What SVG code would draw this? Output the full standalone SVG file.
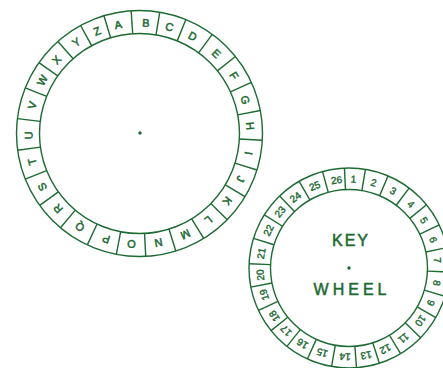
<svg xmlns="http://www.w3.org/2000/svg" xmlns:xlink="http://www.w3.org/1999/xlink" width="443" height="368" viewBox="0 0 443 368">
<style>
.ring{fill:none;stroke:#1d6a33;stroke-width:1.4}
.div{stroke:#1d6a33;stroke-width:1.4}
.dot{fill:#1d6a33}
.let{font-family:"Liberation Sans",Arial,sans-serif;font-size:11px;fill:#1d6a33;stroke:#1d6a33;stroke-width:0.5;text-anchor:middle}
.num{font-family:"Liberation Sans",Arial,sans-serif;font-size:10px;fill:#1d6a33;stroke:#1d6a33;stroke-width:0.4;text-anchor:middle}
.title{font-family:"Liberation Sans",Arial,sans-serif;font-size:16px;fill:#1d6a33;stroke:#1d6a33;stroke-width:0.5;text-anchor:middle}
</style>
<defs>
<line id="bd" class="div" x1="139.5" y1="33.5" x2="139.5" y2="10.5"/>
<line id="kd" class="div" x1="349" y1="189.5" x2="349" y2="168"/>
</defs>
<rect width="443" height="368" fill="#ffffff"/>
<g id="connectors"/>
<g id="alphabet-wheel">
<circle class="ring" cx="139.5" cy="133.5" r="123"/>
<circle class="ring" cx="139.5" cy="133.5" r="100"/>
<circle class="dot" cx="140" cy="133" r="1.7"/>
<use xlink:href="#bd" transform="rotate(-3.9 139.5 133.5)"/>
<use xlink:href="#bd" transform="rotate(9.5 139.5 133.5)"/>
<use xlink:href="#bd" transform="rotate(22.15 139.5 133.5)"/>
<use xlink:href="#bd" transform="rotate(36.25 139.5 133.5)"/>
<use xlink:href="#bd" transform="rotate(51.2 139.5 133.5)"/>
<use xlink:href="#bd" transform="rotate(65.45 139.5 133.5)"/>
<use xlink:href="#bd" transform="rotate(79.25 139.5 133.5)"/>
<use xlink:href="#bd" transform="rotate(93.15 139.5 133.5)"/>
<use xlink:href="#bd" transform="rotate(107.25 139.5 133.5)"/>
<use xlink:href="#bd" transform="rotate(120.9 139.5 133.5)"/>
<use xlink:href="#bd" transform="rotate(134.5 139.5 133.5)"/>
<use xlink:href="#bd" transform="rotate(148.55 139.5 133.5)"/>
<use xlink:href="#bd" transform="rotate(162.85 139.5 133.5)"/>
<use xlink:href="#bd" transform="rotate(177.1 139.5 133.5)"/>
<use xlink:href="#bd" transform="rotate(190.85 139.5 133.5)"/>
<use xlink:href="#bd" transform="rotate(205.1 139.5 133.5)"/>
<use xlink:href="#bd" transform="rotate(219.95 139.5 133.5)"/>
<use xlink:href="#bd" transform="rotate(234.25 139.5 133.5)"/>
<use xlink:href="#bd" transform="rotate(248.25 139.5 133.5)"/>
<use xlink:href="#bd" transform="rotate(262.2 139.5 133.5)"/>
<use xlink:href="#bd" transform="rotate(276.95 139.5 133.5)"/>
<use xlink:href="#bd" transform="rotate(291.75 139.5 133.5)"/>
<use xlink:href="#bd" transform="rotate(305.15 139.5 133.5)"/>
<use xlink:href="#bd" transform="rotate(318.45 139.5 133.5)"/>
<use xlink:href="#bd" transform="rotate(331.4 139.5 133.5)"/>
<use xlink:href="#bd" transform="rotate(343.2 139.5 133.5)"/>
<text class="let" x="139.5" y="26.5" transform="rotate(-11.1 139.5 133.5)">A</text>
<text class="let" x="139.5" y="26.5" transform="rotate(3.36 139.5 133.5)">B</text>
<text class="let" x="139.5" y="26.5" transform="rotate(15.7 139.5 133.5)">C</text>
<text class="let" x="139.5" y="26.5" transform="rotate(28.6 139.5 133.5)">D</text>
<text class="let" x="139.5" y="26.5" transform="rotate(43.9 139.5 133.5)">E</text>
<text class="let" x="139.5" y="26.5" transform="rotate(58.5 139.5 133.5)">F</text>
<text class="let" x="139.5" y="26.5" transform="rotate(72.4 139.5 133.5)">G</text>
<text class="let" x="139.5" y="26.5" transform="rotate(86.1 139.5 133.5)">H</text>
<text class="let" x="139.5" y="26.5" transform="rotate(100.2 139.5 133.5)">I</text>
<text class="let" x="139.5" y="26.5" transform="rotate(114.3 139.5 133.5)">J</text>
<text class="let" x="139.5" y="26.5" transform="rotate(127.5 139.5 133.5)">K</text>
<text class="let" x="139.5" y="26.5" transform="rotate(141.5 139.5 133.5)">L</text>
<text class="let" x="139.5" y="26.5" transform="rotate(155.6 139.5 133.5)">M</text>
<text class="let" x="139.5" y="26.5" transform="rotate(170.1 139.5 133.5)">N</text>
<text class="let" x="139.5" y="26.5" transform="rotate(184.1 139.5 133.5)">O</text>
<text class="let" x="139.5" y="26.5" transform="rotate(197.6 139.5 133.5)">P</text>
<text class="let" x="139.5" y="26.5" transform="rotate(212.6 139.5 133.5)">Q</text>
<text class="let" x="139.5" y="26.5" transform="rotate(227.3 139.5 133.5)">R</text>
<text class="let" x="139.5" y="26.5" transform="rotate(241.2 139.5 133.5)">S</text>
<text class="let" x="139.5" y="26.5" transform="rotate(255.3 139.5 133.5)">T</text>
<text class="let" x="139.5" y="26.5" transform="rotate(269.1 139.5 133.5)">U</text>
<text class="let" x="139.5" y="26.5" transform="rotate(284.8 139.5 133.5)">V</text>
<text class="let" x="139.5" y="26.5" transform="rotate(298.7 139.5 133.5)">W</text>
<text class="let" x="139.5" y="26.5" transform="rotate(311.6 139.5 133.5)">X</text>
<text class="let" x="139.5" y="26.5" transform="rotate(325.3 139.5 133.5)">Y</text>
<text class="let" x="139.5" y="26.5" transform="rotate(337.5 139.5 133.5)">Z</text>
</g>
<g id="key-wheel">
<circle class="ring" cx="349" cy="268" r="100"/>
<circle class="ring" cx="349" cy="268" r="78.5"/>
<circle class="dot" cx="349" cy="268" r="1.7"/>
<use xlink:href="#kd" transform="rotate(-2.6 349 268)"/>
<use xlink:href="#kd" transform="rotate(9.45 349 268)"/>
<use xlink:href="#kd" transform="rotate(22.95 349 268)"/>
<use xlink:href="#kd" transform="rotate(36.95 349 268)"/>
<use xlink:href="#kd" transform="rotate(50.8 349 268)"/>
<use xlink:href="#kd" transform="rotate(64.5 349 268)"/>
<use xlink:href="#kd" transform="rotate(78.2 349 268)"/>
<use xlink:href="#kd" transform="rotate(92.3 349 268)"/>
<use xlink:href="#kd" transform="rotate(106.4 349 268)"/>
<use xlink:href="#kd" transform="rotate(119.75 349 268)"/>
<use xlink:href="#kd" transform="rotate(134.25 349 268)"/>
<use xlink:href="#kd" transform="rotate(148.95 349 268)"/>
<use xlink:href="#kd" transform="rotate(162.35 349 268)"/>
<use xlink:href="#kd" transform="rotate(175.7 349 268)"/>
<use xlink:href="#kd" transform="rotate(190.05 349 268)"/>
<use xlink:href="#kd" transform="rotate(204.6 349 268)"/>
<use xlink:href="#kd" transform="rotate(218.35 349 268)"/>
<use xlink:href="#kd" transform="rotate(231.2 349 268)"/>
<use xlink:href="#kd" transform="rotate(244.9 349 268)"/>
<use xlink:href="#kd" transform="rotate(259 349 268)"/>
<use xlink:href="#kd" transform="rotate(272.45 349 268)"/>
<use xlink:href="#kd" transform="rotate(287.25 349 268)"/>
<use xlink:href="#kd" transform="rotate(302.15 349 268)"/>
<use xlink:href="#kd" transform="rotate(316.05 349 268)"/>
<use xlink:href="#kd" transform="rotate(330.1 349 268)"/>
<use xlink:href="#kd" transform="rotate(344.65 349 268)"/>
<text class="num" x="349" y="182.6" transform="rotate(2.8 349 268)">1</text>
<text class="num" x="349" y="182.6" transform="rotate(16.1 349 268)">2</text>
<text class="num" x="349" y="182.6" transform="rotate(29.8 349 268)">3</text>
<text class="num" x="349" y="182.6" transform="rotate(44.1 349 268)">4</text>
<text class="num" x="349" y="182.6" transform="rotate(57.5 349 268)">5</text>
<text class="num" x="349" y="182.6" transform="rotate(71.5 349 268)">6</text>
<text class="num" x="349" y="182.6" transform="rotate(84.9 349 268)">7</text>
<text class="num" x="349" y="182.6" transform="rotate(99.7 349 268)">8</text>
<text class="num" x="349" y="182.6" transform="rotate(113.1 349 268)">9</text>
<text class="num" x="349" y="182.6" transform="rotate(126.4 349 268)">10</text>
<text class="num" x="349" y="182.6" transform="rotate(142.1 349 268)">11</text>
<text class="num" x="349" y="182.6" transform="rotate(155.8 349 268)">12</text>
<text class="num" x="349" y="182.6" transform="rotate(168.9 349 268)">13</text>
<text class="num" x="349" y="182.6" transform="rotate(182.5 349 268)">14</text>
<text class="num" x="349" y="182.6" transform="rotate(197.6 349 268)">15</text>
<text class="num" x="349" y="182.6" transform="rotate(211.6 349 268)">16</text>
<text class="num" x="349" y="182.6" transform="rotate(225.1 349 268)">17</text>
<text class="num" x="349" y="182.6" transform="rotate(237.3 349 268)">18</text>
<text class="num" x="349" y="182.6" transform="rotate(252.5 349 268)">19</text>
<text class="num" x="349" y="182.6" transform="rotate(265.5 349 268)">20</text>
<text class="num" x="349" y="182.6" transform="rotate(279.4 349 268)">21</text>
<text class="num" x="349" y="182.6" transform="rotate(295.1 349 268)">22</text>
<text class="num" x="349" y="182.6" transform="rotate(309.2 349 268)">23</text>
<text class="num" x="349" y="182.6" transform="rotate(322.9 349 268)">24</text>
<text class="num" x="349" y="182.6" transform="rotate(337.3 349 268)">25</text>
<text class="num" x="349" y="182.6" transform="rotate(352 349 268)">26</text>
<text class="title" x="351" y="246" letter-spacing="2">KEY</text>
<text class="title" x="352" y="295" letter-spacing="4">WHEEL</text>
</g>
</svg>
